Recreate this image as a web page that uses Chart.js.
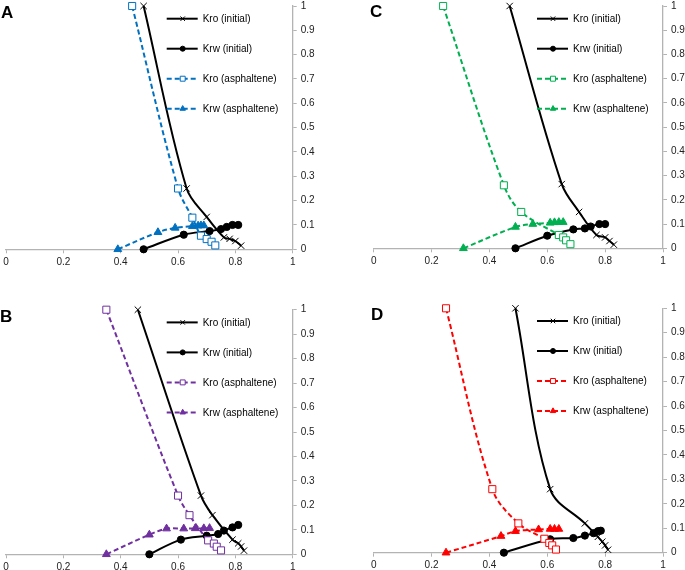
<!DOCTYPE html>
<html>
<head>
<meta charset="utf-8">
<script src="https://cdn.jsdelivr.net/npm/chart.js@4/dist/chart.umd.min.js"></script>
<style>
  body { margin: 0; background: #fff; width: 685px; height: 570px; position: relative; overflow: hidden; }
  canvas { position: absolute; }
  .tag { position: absolute; font: bold 17px "Liberation Sans", Arial, sans-serif; color: #000; line-height: 1; }
</style>
</head>
<body>
<canvas id="panelA" width="342" height="285" style="left:0;top:0"></canvas>
<canvas id="panelC" width="343" height="285" style="left:342px;top:0"></canvas>
<canvas id="panelB" width="342" height="285" style="left:0;top:285px"></canvas>
<canvas id="panelD" width="343" height="285" style="left:342px;top:285px"></canvas>
<div class="tag" style="left:1px;top:4px">A</div>
<div class="tag" style="left:370px;top:3px">C</div>
<div class="tag" style="left:0px;top:308px">B</div>
<div class="tag" style="left:371px;top:306px">D</div>
<script>
// series labels
const seriesNames = ['Kro (initial)', 'Krw (initial)', 'Kro (asphaltene)', 'Krw (asphaltene)'];
const xTicks = ['0', '0.2', '0.4', '0.6', '0.8', '1'];
const yTicks = ['0', '0.1', '0.2', '0.3', '0.4', '0.5', '0.6', '0.7', '0.8', '0.9', '1'];

// panel A  [Sw, kr]
const aKroInit = [[0.48, 1], [0.63, 0.25], [0.70, 0.133], [0.76, 0.049], [0.78, 0.043], [0.80, 0.034], [0.82, 0.015]];
const aKrwInit = [[0.48, 0], [0.62, 0.06], [0.71, 0.075], [0.75, 0.083], [0.77, 0.092], [0.79, 0.10], [0.81, 0.10]];
const aKroAsph = [[0.44, 1], [0.60, 0.25], [0.65, 0.13], [0.68, 0.056], [0.70, 0.042], [0.717, 0.031], [0.73, 0.016]];
const aKrwAsph = [[0.39, 0], [0.53, 0.07], [0.59, 0.088], [0.65, 0.095], [0.67, 0.097], [0.68, 0.098], [0.69, 0.098]];

// panel B
const bKroInit = [[0.46, 1], [0.68, 0.24], [0.72, 0.16], [0.79, 0.06], [0.81, 0.045], [0.82, 0.032], [0.83, 0.015]];
const bKrwInit = [[0.50, 0], [0.61, 0.06], [0.70, 0.076], [0.74, 0.083], [0.76, 0.097], [0.79, 0.11], [0.81, 0.12]];
const bKroAsph = [[0.35, 1], [0.60, 0.24], [0.64, 0.16], [0.705, 0.057], [0.725, 0.044], [0.735, 0.031], [0.75, 0.016]];
const bKrwAsph = [[0.35, 0], [0.50, 0.08], [0.56, 0.105], [0.62, 0.105], [0.66, 0.106], [0.69, 0.106], [0.71, 0.107]];

// panel C
const cKroInit = [[0.47, 1], [0.65, 0.265], [0.71, 0.15], [0.77, 0.055], [0.80, 0.045], [0.815, 0.03], [0.83, 0.015]];
const cKrwInit = [[0.49, 0], [0.60, 0.052], [0.69, 0.078], [0.73, 0.082], [0.75, 0.09], [0.78, 0.10], [0.80, 0.10]];
const cKroAsph = [[0.24, 1], [0.45, 0.26], [0.51, 0.15], [0.64, 0.055], [0.655, 0.045], [0.665, 0.033], [0.68, 0.017]];
const cKrwAsph = [[0.31, 0], [0.49, 0.088], [0.55, 0.10], [0.61, 0.105], [0.625, 0.107], [0.64, 0.108], [0.655, 0.108]];

// panel D
const dKroInit = [[0.49, 1], [0.61, 0.26], [0.73, 0.12], [0.775, 0.065], [0.79, 0.045], [0.80, 0.03], [0.81, 0.012]];
const dKrwInit = [[0.45, 0], [0.61, 0.055], [0.69, 0.06], [0.73, 0.07], [0.76, 0.08], [0.775, 0.088], [0.785, 0.09]];
const dKroAsph = [[0.25, 1], [0.41, 0.26], [0.50, 0.12], [0.59, 0.057], [0.607, 0.04], [0.617, 0.03], [0.63, 0.013]];
const dKrwAsph = [[0.25, 0], [0.44, 0.068], [0.49, 0.088], [0.57, 0.095], [0.61, 0.097], [0.625, 0.097], [0.64, 0.097]];

const font = '"Liberation Sans", Arial, sans-serif';
const toPts = arr => arr.map(p => ({ x: p[0], y: p[1] }));

// draws the Excel-like legend inside the plot area
const legendPlugin = {
  id: 'insideLegend',
  afterDraw(chart) {
    const ctx = chart.ctx;
    const area = chart.chartArea;
    chart.data.datasets.forEach((ds, i) => {
      const y = area.top + 12.7 + i * 30;
      const x0 = area.right - 126;
      ctx.save();
      ctx.strokeStyle = ds.borderColor;
      ctx.lineWidth = ds.borderWidth;
      ctx.setLineDash(ds.borderDash || []);
      ctx.beginPath();
      ctx.moveTo(x0, y);
      ctx.lineTo(x0 + 31, y);
      ctx.stroke();
      ctx.setLineDash([]);
      ctx.fillStyle = ds.pointBackgroundColor;
      ctx.strokeStyle = ds.pointBorderColor;
      ctx.lineWidth = ds.pointBorderWidth;
      Chart.helpers.drawPoint(ctx, {
        pointStyle: ds.pointStyle, radius: ds.pointRadius * 0.7, borderWidth: ds.pointBorderWidth, rotation: 0
      }, x0 + 16, y);
      ctx.fillStyle = '#000';
      ctx.font = '10px ' + font;
      ctx.textBaseline = 'middle';
      ctx.fillText(ds.label, x0 + 36, y + 0.5);
      ctx.restore();
    });
  }
};

function makePanel(id, color, series, box) {
  const blackLine = { borderColor: '#000', borderWidth: 2 };
  const dashed = { borderColor: color, borderWidth: 2, borderDash: [5, 3] };
  const datasets = [
    Object.assign({ label: seriesNames[0], data: toPts(series[0]), pointStyle: 'crossRot', pointRadius: 4.5,
      pointBorderColor: '#000', pointBackgroundColor: '#000', pointBorderWidth: 1, order: 4 }, blackLine),
    Object.assign({ label: seriesNames[1], data: toPts(series[1]), pointStyle: 'circle', pointRadius: 3.6,
      pointBorderColor: '#000', pointBackgroundColor: '#000', pointBorderWidth: 1, order: 3 }, blackLine),
    Object.assign({ label: seriesNames[2], data: toPts(series[2]), pointStyle: 'rect', pointRadius: 5,
      pointBorderColor: color, pointBackgroundColor: '#fff', pointBorderWidth: 1, order: 2 }, dashed),
    Object.assign({ label: seriesNames[3], data: toPts(series[3]), pointStyle: 'triangle', pointRadius: 4.5,
      pointBorderColor: color, pointBackgroundColor: color, pointBorderWidth: 1, order: 1 }, dashed)
  ];
  datasets.forEach(ds => { ds.showLine = true; ds.tension = 0.35; ds.clip = false; ds.pointHoverRadius = ds.pointRadius; });

  new Chart(document.getElementById(id), {
    type: 'scatter',
    data: { datasets },
    options: {
      responsive: false,
      animation: false,
      events: [],
      layout: { padding: { left: box.left, top: box.top, right: 0, bottom: 0 } },
      plugins: { legend: { display: false }, tooltip: { enabled: false } },
      scales: {
        x: {
          type: 'linear', position: 'bottom', min: 0, max: 1,
          ticks: { stepSize: 0.2, maxRotation: 0, padding: 3, color: '#222', font: { size: 10, family: font },
            callback: (v, i) => xTicks[i] },
          grid: { drawOnChartArea: false, drawTicks: true, tickLength: 4, color: '#b3b3b3' },
          border: { display: true, color: '#b3b3b3', width: 1.3 },
          afterFit: s => { s.height = box.xh; s.paddingLeft = 0; s.paddingRight = 0; }
        },
        y: {
          type: 'linear', position: 'right', min: 0, max: 1,
          ticks: { stepSize: 0.1, padding: 4, color: '#222', font: { size: 10, family: font },
            callback: (v, i) => yTicks[i] },
          grid: { drawOnChartArea: false, drawTicks: true, tickLength: 4, color: '#b3b3b3' },
          border: { display: true, color: '#b3b3b3', width: 1.3 },
          afterFit: s => { s.width = box.yw; s.paddingTop = 0; s.paddingBottom = 0; }
        }
      }
    },
    plugins: [legendPlugin]
  });
}

makePanel('panelA', '#0070C0', [aKroInit, aKrwInit, aKroAsph, aKrwAsph], { left: 3.3, top: 4.7, yw: 49.3, xh: 35.7 });
makePanel('panelC', '#00B050', [cKroInit, cKrwInit, cKroAsph, cKrwAsph], { left: 31.7, top: 4, yw: 22, xh: 36.7 });
makePanel('panelB', '#7030A0', [bKroInit, bKrwInit, bKroAsph, bKrwAsph], { left: 3.3, top: 24.7, yw: 49.3, xh: 15.7 });
makePanel('panelD', '#FF0000', [dKroInit, dKrwInit, dKroAsph, dKrwAsph], { left: 31.7, top: 23.3, yw: 22, xh: 17.3 });
</script>
</body>
</html>
